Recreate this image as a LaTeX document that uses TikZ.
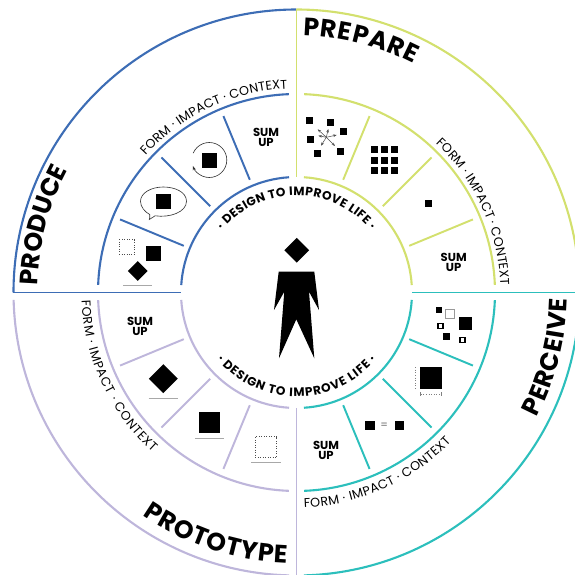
\documentclass[tikz,border=0pt]{standalone}
\usepackage{fontspec}
\usepackage{tikz}
\usetikzlibrary{decorations.text, arrows.meta, shapes}
\newfontfamily\labelfont{Poppins}
\definecolor{produceblue}{HTML}{3D6DB5}
\definecolor{prepareyellow}{HTML}{D3E06E}
\definecolor{perceiveteal}{HTML}{2CBFBC}
\definecolor{prototypelav}{HTML}{BEB6DB}
\definecolor{ruleGray}{HTML}{A8A8A8}
\def\pxunit{0.02cm}
\newcommand{\curvetext}[5]{\path[decorate, decoration={text along path, text align={fit to path},
    text={|#5|#4}}] (#1:#3) arc (#1:#2:#3);}
\newcommand{\bigfont}{\labelfont\bfseries\fontsize{14.3}{15}\selectfont}
\newcommand{\midfont}{\labelfont\fontsize{7.2}{8}\selectfont}
\newcommand{\smallbold}{\labelfont\bfseries\fontsize{6.9}{7}\selectfont}
\newcommand{\sumfont}{\labelfont\bfseries\fontsize{6.6}{7}\selectfont}

\begin{document}
\begin{tikzpicture}
        [x=\pxunit, y=\pxunit,
         ring/.style={line width=1.2pt},
         axis/.style={line width=1pt},
         spoke/.style={line width=1.1pt},
         sq/.style={rectangle, fill=black, inner sep=0pt, minimum size=#1*\pxunit},
         dia/.style={rectangle, fill=black, inner sep=0pt, rotate=45, minimum size=#1*\pxunit},
         hollow/.style={rectangle, draw=black, line width=0.8pt, inner sep=0pt, minimum size=#1*\pxunit},
         dotbox/.style={rectangle, draw=black!70, densely dotted, line width=0.4pt, inner sep=0pt, minimum size=#1*\pxunit},
         baseline rule/.style={draw=ruleGray, line width=0.7pt},
         sumup/.style={font=\sumfont, align=center, inner sep=0pt}]
        \clip (-296.5,-282.5) rectangle (278.5,292.5);

        % outer ring
        \draw[ring, produceblue] (180:283) arc (180:90:283);
        \draw[ring, prepareyellow] (90:283) arc (90:-5:283);
        \draw[ring, perceiveteal] (-5:283) arc (-5:-88.5:283);
        \draw[ring, prototypelav] (181.5:283) arc (181.5:268.5:283);

        % axes
        \draw[axis, produceblue] (-283,0) -- (-115.5,0);
        \draw[axis, prepareyellow] (0,283) -- (0,115.5);
        \draw[axis, perceiveteal] (115.5,0) -- (283,0);
        \draw[axis, prototypelav] (0,-115.5) -- (0,-283);

        % the two inner rings and spokes of each quarter
        \foreach \col/\start in {produceblue/90, prepareyellow/0, perceiveteal/-90, prototypelav/180} {
            \draw[ring, \col] (\start+3.7:115.5) arc (\start+3.7:\start+86.3:115.5);
            \draw[ring, \col] (\start+2.2:198.5) arc (\start+2.2:\start+87.8:198.5);
            \foreach \off in {22.5, 45, 67.5}
                \draw[spoke, \col] (\start+\off:122) -- (\start+\off:191);
        }

        % curved texts
        \curvetext{88.5}{62.8}{257}{PREPARE}{\bigfont}
        \curvetext{178.5}{152}{259}{PRODUCE}{\bigfont}
        \curvetext{-27.5}{-1.4}{271}{PERCEIVE}{\bigfont}
        \curvetext{-124.6}{-92}{271}{PROTOTYPE}{\bigfont}
        \curvetext{137.7}{92.5}{204}{FORM · IMPACT · CONTEXT}{\midfont}
        \curvetext{47}{2}{204}{FORM · IMPACT · CONTEXT}{\midfont}
        \curvetext{-88}{-44}{215}{FORM · IMPACT · CONTEXT}{\midfont}
        \curvetext{182}{228}{215}{FORM · IMPACT · CONTEXT}{\midfont}
        \curvetext{140}{40}{97}{· DESIGN TO IMPROVE LIFE ·}{\smallbold}
        \curvetext{-140}{-40}{104}{· DESIGN TO IMPROVE LIFE ·}{\smallbold}

        \begin{scope}[shift={(-296.5,292.5)}, y=-\pxunit]
            % figure
            \node[dia=17.5] (head) at (296.7,250.3) {};
            \fill (278.7,271.7) -- (314.3,271.7) -- (319,310) -- (309,291.7) -- (314.3,358.3)
                -- (296.3,319.3) -- (279,358.3) -- (284.3,291.7) -- (274,310) -- cycle;

            % produce
            \node[sumup] (sumProduce) at (266,137.5) {SUM\\[-1.3pt]UP};
            \node[sq=15] (cycleSq) at (209.3,160) {};
            \draw[black!80, line width=0.35pt, -{Stealth[length=2.5pt]}]
                ([shift={(203:17.5)}]cycleSq.center) arc (203:520:17.5);
            \node[sq=15] (bubbleSq) at (163.3,201.3) {};
            \draw[black!80, line width=0.35pt] (149.7,214.5) .. controls (149.8,217) and (150,218) .. (149.3,219.5)
                .. controls (152,218) and (153,217) .. (155,215.8)
                .. controls (170,218) and (186.5,212) .. (186.5,201.3)
                .. controls (186.5,192) and (175,187) .. (163.3,187)
                .. controls (151,187) and (140.5,193) .. (140.5,201.3)
                .. controls (140.5,207) and (145,212) .. (149.7,214.5) -- cycle;
            \node[dotbox=15] (dotSmall) at (126.7,247.3) {};
            \node[sq=15] (squareSmall) at (153.3,253.3) {};
            \node[dia=14] (diamondSmall) at (137.7,271) {};
            \draw[baseline rule] (123.3,285.7) -- (152.3,285.7);

            % prepare
            \foreach \x/\y [count=\i] in {309.3/121, 330.7/123, 343.3/132, 311/139.3, 318/153, 340.7/151.7}
                \node[sq=7] (scatter\i) at (\x,\y) {};
            \coordinate (hub) at (326.3,137.3);
            \foreach \x/\y in {317.7/129.3, 328.3/129, 336.7/135, 335/146, 321/145.7, 318.3/135.7}
                \draw[black!70, line width=0.3pt, -{Stealth[length=2pt]}] (hub) -- (\x,\y);
            \foreach \x [count=\i] in {374.7,384.3,394.3}
                \foreach \y [count=\j] in {149.7,160,170.3}
                    \node[sq=7] (grid\i\j) at (\x,\y) {};
            \node[sq=7] (single) at (428,203.3) {};
            \node[sumup] (sumPrepare) at (453.7,262.7) {SUM\\[-1.3pt]UP};

            % perceive
            \node[sq=6] (mixA) at (438.7,310) {};
            \node[rectangle, draw=black!40, line width=0.7pt, inner sep=0pt, minimum size=8.5*\pxunit] (mixB) at (450,314) {};
            \node[sq=13] (mixC) at (465,323) {};
            \node[hollow=5] (mixD) at (440.7,326) {};
            \node[sq=7] (mixE) at (446,336.3) {};
            \node[hollow=5] (mixF) at (462.7,340) {};
            \node[sq=22] (bigSq) at (430.7,378.3) {};
            \draw[black!50, densely dotted, line width=0.5pt] (415,367) -- (415,389);
            \draw[black!50, densely dotted, line width=0.5pt, {Bar[width=2.2pt]}-{Bar[width=2.2pt]}] (420,394) -- (442,394);
            \node[sq=9] (eqLeft) at (370,425.7) {};
            \node[sq=9] (eqRight) at (399,425.7) {};
            \node[font=\labelfont\fontsize{6}{6}\selectfont, text=black!60, inner sep=0pt] (eqSign) at (384.3,425.7) {=};
            \node[sumup] (sumPerceive) at (326,450) {SUM\\[-1.3pt]UP};

            % prototype
            \node[sumup] (sumPrototype) at (140,326.7) {SUM\\[-1.3pt]UP};
            \node[dia=20.5] (protoDia) at (163.3,378.7) {};
            \draw[baseline rule] (148.7,398.3) -- (177.7,398.3);
            \node[sq=21] (protoSq) at (209.3,422.7) {};
            \draw[baseline rule] (195,438.7) -- (224.3,438.7);
            \node[dotbox=21] (protoDot) at (266,447) {};
            \draw[baseline rule] (251.3,462.7) -- (280.7,462.7);
        \end{scope}
    \end{tikzpicture}
\end{document}
